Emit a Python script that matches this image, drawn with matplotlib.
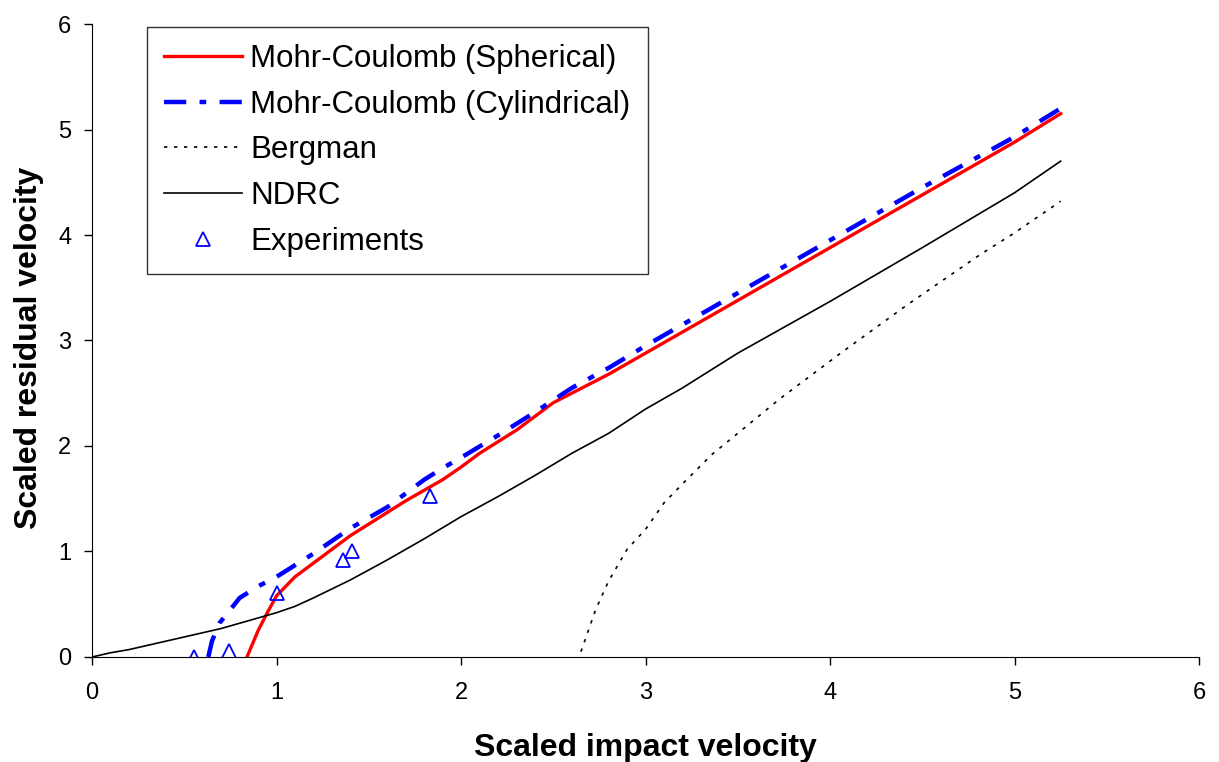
import matplotlib
matplotlib.use("Agg")
import matplotlib.pyplot as plt

plt.rcParams["font.family"] = ["Liberation Sans", "DejaVu Sans"]

# ======================
# Data
# ======================
sph_x = [0.84, 0.9, 0.95, 1.0, 1.1, 1.2, 1.3, 1.4, 1.5, 1.6, 1.7, 1.8, 1.9, 2.0,
         2.1, 2.2, 2.3, 2.4, 2.5, 2.6, 2.8, 3.0, 3.25, 3.5, 3.75, 4.0, 4.5, 5.0, 5.25]
sph_y = [0.0, 0.25, 0.42, 0.58, 0.76, 0.89, 1.02, 1.15, 1.26, 1.37, 1.48, 1.58, 1.68, 1.80,
         1.93, 2.04, 2.15, 2.28, 2.41, 2.50, 2.68, 2.88, 3.13, 3.38, 3.63, 3.88, 4.38, 4.88, 5.15]

cyl_x = [0.63, 0.65, 0.69, 0.75, 0.8, 0.9, 1.0, 1.1, 1.2, 1.3, 1.4, 1.5, 1.6, 1.7,
         1.8, 1.9, 2.0, 2.2, 2.4, 2.6, 2.8, 3.0, 3.5, 4.0, 4.5, 5.0, 5.25]
cyl_y = [0.0, 0.15, 0.32, 0.45, 0.56, 0.67, 0.76, 0.87, 0.98, 1.10, 1.22, 1.32, 1.42, 1.55,
         1.68, 1.79, 1.89, 2.10, 2.32, 2.55, 2.74, 2.95, 3.45, 3.95, 4.45, 4.93, 5.20]

berg_x = [2.65, 2.7, 2.73, 2.8, 2.9, 3.0, 3.1, 3.2, 3.36, 3.5, 3.73, 4.05, 4.42, 4.81, 5.0, 5.25]
berg_y = [0.05, 0.30, 0.45, 0.72, 1.02, 1.21, 1.46, 1.64, 1.92, 2.12, 2.45, 2.87, 3.34, 3.81, 4.02, 4.32]

ndrc_x = [0.0, 0.1, 0.2, 0.3, 0.4, 0.5, 0.6, 0.7, 0.8, 0.9, 1.0, 1.1, 1.2, 1.4, 1.6,
          1.8, 2.0, 2.2, 2.4, 2.6, 2.8, 3.0, 3.2, 3.5, 4.0, 4.5, 5.0, 5.25]
ndrc_y = [0.0, 0.04, 0.07, 0.11, 0.15, 0.19, 0.23, 0.27, 0.32, 0.37, 0.42, 0.48, 0.56, 0.73, 0.92,
          1.12, 1.33, 1.52, 1.72, 1.93, 2.12, 2.35, 2.55, 2.88, 3.37, 3.88, 4.40, 4.70]

exp_x = [0.55, 0.74, 1.0, 1.36, 1.41, 1.83]
exp_y = [0.0, 0.06, 0.61, 0.92, 1.0, 1.53]

# ======================
# Plot
# ======================
fig = plt.figure(figsize=(12.19, 7.62), dpi=100)
ax = fig.add_axes([0.0755, 0.1378, 0.9081, 0.8307])

ax.plot(sph_x, sph_y, color="red", lw=2.4, label="Mohr-Coulomb (Spherical)")
ax.plot(cyl_x, cyl_y, color="blue", lw=3.2, linestyle=(0, (5, 3, 1.5, 3)),
        label="Mohr-Coulomb (Cylindrical)")
ax.plot(berg_x, berg_y, color="black", lw=1.2, linestyle=(0, (2, 4)), label="Bergman")
ax.plot(ndrc_x, ndrc_y, color="black", lw=1.2, label="NDRC")
ax.plot(exp_x, exp_y, linestyle="none", marker="^", markersize=9.5, markerfacecolor="none",
        markeredgecolor="blue", markeredgewidth=1.3, label="Experiments")

ax.set_xlim(0, 6)
ax.set_ylim(0, 6)
ax.set_xticks(range(7))
ax.set_yticks(range(7))
ax.spines["top"].set_visible(False)
ax.spines["right"].set_visible(False)
ax.tick_params(direction="out", length=6, width=1, labelsize=17)
ax.tick_params(axis="x", pad=12)
ax.tick_params(axis="y", pad=9)

ax.set_xlabel("Scaled impact velocity", fontsize=23, fontweight="bold", labelpad=21)
ax.set_ylabel("Scaled residual velocity", fontsize=23, fontweight="bold")
ax.yaxis.set_label_coords(-0.043, 0.488)

leg = ax.legend(loc="upper left", bbox_to_anchor=(0.0497, 0.9953), borderaxespad=0,
                fontsize=22.5, handlelength=2.5, frameon=True, fancybox=False,
                edgecolor="black", borderpad=0.55, labelspacing=0.5, handletextpad=0.25)
leg.get_frame().set_linewidth(1.0)

plt.savefig("out.png", dpi=100)
